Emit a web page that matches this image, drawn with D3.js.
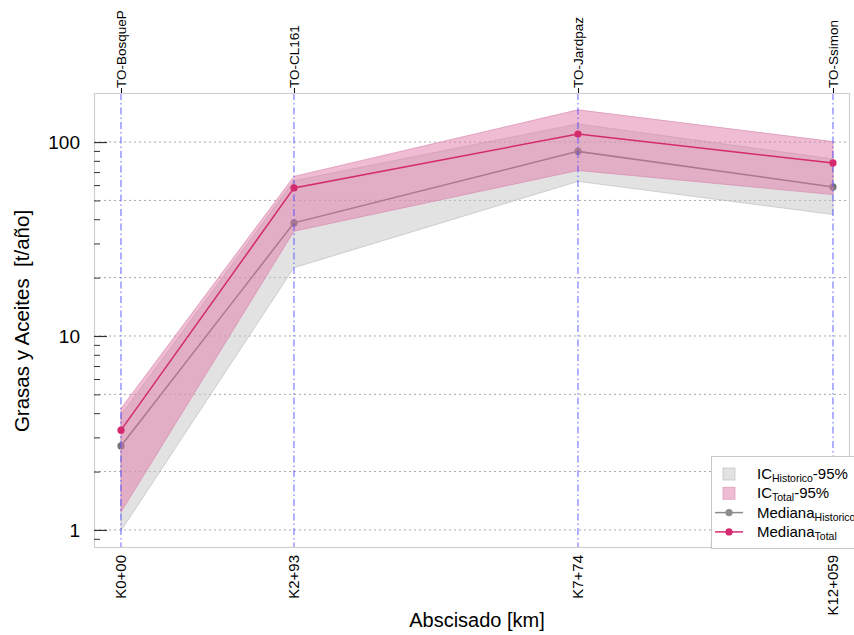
<!DOCTYPE html>
<html>
<head>
<meta charset="utf-8">
<script src="https://cdn.jsdelivr.net/npm/d3@7/dist/d3.min.js"></script>
<style>
  html, body { margin: 0; padding: 0; background: #fff; }
  svg { display: block; font-family: "Liberation Sans", Arial, sans-serif; }
</style>
</head>
<body>
<svg id="chart" width="854" height="635"></svg>
<script>
// Stations along the channel (abscissa in km)
const stations = ["K0+00", "K2+93", "K7+74", "K12+059"];
const km = [0, 2.93, 7.74, 12.059];
const sites = ["TO-BosqueP", "TO-CL161", "TO-Jardpaz", "TO-Ssimon"];

// Grease & oil load [t/año]
const medianaTotal = [3.27, 58.0, 110, 78];
const medianaHistorico = [2.71, 38.3, 89.5, 58.7];
const icTotalLow = [1.235, 34.7, 71.4, 53.6];
const icTotalHigh = [4.23, 66.5, 146.6, 100.5];
const icHistLow = [0.99, 22.5, 62.7, 42.3];
const icHistHigh = [3.9, 63.2, 124, 81.8];

// Axis ticks
const yMajor = [1, 10, 100];
const yGrid = [1, 2, 5, 10, 20, 50, 100];
const extraXTicks = [10];

const svg = d3.select("#chart");
const L = 94, R = 850, T = 93, B = 548;

const x = d3.scaleLinear().domain([-0.457, 12.347]).range([L, R]);
const y = d3.scaleLog().domain([0.807, 179]).range([B, T]);

const pinkLine = "#d42a6e";
const grayLine = "#757575";
const grayLegend = "#8c8c8c";
const pinkFill = "#e07aa8";
const grayFill = "#c6c6c6";

// Panel
svg.append("rect").attr("x", L).attr("y", T).attr("width", R - L).attr("height", B - T)
  .attr("fill", "#fff");

// Horizontal dotted grid
svg.append("g").selectAll("line").data(yGrid).join("line")
  .attr("x1", L).attr("x2", R)
  .attr("y1", d => y(d)).attr("y2", d => y(d))
  .attr("stroke", "#a8a8a8").attr("stroke-width", 1)
  .attr("stroke-dasharray", "2,3");

const rows = km.map((k, i) => ({
  k, mt: medianaTotal[i], mh: medianaHistorico[i],
  tl: icTotalLow[i], th: icTotalHigh[i], hl: icHistLow[i], hh: icHistHigh[i]
}));

const areaHist = d3.area().x(d => x(d.k)).y0(d => y(d.hl)).y1(d => y(d.hh));
const areaTot = d3.area().x(d => x(d.k)).y0(d => y(d.tl)).y1(d => y(d.th));
const lineH = d3.line().x(d => x(d.k)).y(d => y(d.mh));
const lineT = d3.line().x(d => x(d.k)).y(d => y(d.mt));

// Historic band and median (drawn beneath the total band)
svg.append("path").datum(rows).attr("d", areaHist)
  .attr("fill", grayFill).attr("fill-opacity", 0.5)
  .attr("stroke", "#b8b8b8").attr("stroke-opacity", 0.6).attr("stroke-width", 1);
svg.append("path").datum(rows).attr("d", lineH)
  .attr("fill", "none").attr("stroke", grayLine).attr("stroke-width", 1.5);
svg.append("g").selectAll("circle").data(rows).join("circle")
  .attr("cx", d => x(d.k)).attr("cy", d => y(d.mh)).attr("r", 3.6)
  .attr("fill", grayLine);

// Total band
svg.append("path").datum(rows).attr("d", areaTot)
  .attr("fill", pinkFill).attr("fill-opacity", 0.5)
  .attr("stroke", "#d98cb0").attr("stroke-opacity", 0.7).attr("stroke-width", 1);

// Station vertical lines
svg.append("g").selectAll("line").data(km).join("line")
  .attr("x1", d => x(d)).attr("x2", d => x(d))
  .attr("y1", T).attr("y2", B)
  .attr("stroke", "#4646ff").attr("stroke-opacity", 0.85).attr("stroke-width", 1)
  .attr("stroke-dasharray", "7,3,1.5,3");

// Total median
svg.append("path").datum(rows).attr("d", lineT)
  .attr("fill", "none").attr("stroke", pinkLine).attr("stroke-width", 1.5);
svg.append("g").selectAll("circle").data(rows).join("circle")
  .attr("cx", d => x(d.k)).attr("cy", d => y(d.mt)).attr("r", 3.6)
  .attr("fill", pinkLine);

// Panel frame
svg.append("rect").attr("x", L + 0.5).attr("y", T + 0.5).attr("width", R - L - 1).attr("height", B - T - 1)
  .attr("fill", "none").attr("stroke", "#cfcfcf").attr("stroke-width", 1.2);

// Y axis: inward ticks, minor ticks for every integer multiple
const yMinor = [];
[0.1, 1, 10, 100].forEach(dec => { for (let m = 1; m <= 9; m++) { const v = +(dec * m).toPrecision(3); if (v >= 0.807 && v <= 179) yMinor.push(v); } });
const yAxisMinor = d3.axisRight(y).tickValues(yMinor).tickSize(6).tickFormat("");
const gMinor = svg.append("g").attr("transform", `translate(${L},0)`).call(yAxisMinor);
gMinor.select(".domain").remove();
gMinor.selectAll("line").attr("stroke", "#333");

const yAxisMajor = d3.axisLeft(y).tickValues(yMajor).tickSize(-13).tickPadding(14)
  .tickFormat(d3.format("d"));
const gMajor = svg.append("g").attr("transform", `translate(${L},0)`).call(yAxisMajor);
gMajor.select(".domain").remove();
gMajor.selectAll("line").attr("stroke", "#333").attr("stroke-width", 1.2);
gMajor.selectAll("text").attr("font-size", 19).attr("fill", "#000")
  .attr("font-family", "Liberation Sans, Arial, sans-serif");

// Bottom axis: station labels, rotated
const xAxisB = d3.axisBottom(x).tickValues(km).tickSize(0).tickPadding(0)
  .tickFormat((d, i) => stations[i]);
const gB = svg.append("g").attr("transform", `translate(0,${B})`).call(xAxisB);
gB.select(".domain").remove();
gB.selectAll("text")
  .attr("font-size", 15).attr("fill", "#000")
  .attr("font-family", "Liberation Sans, Arial, sans-serif")
  .attr("text-anchor", "end").attr("dy", null)
  .attr("transform", "translate(5,7) rotate(-90)")
  .attr("x", 0).attr("y", 0);

// Extra inward tick on the bottom axis
svg.append("g").selectAll("line").data(extraXTicks).join("line")
  .attr("x1", d => x(d)).attr("x2", d => x(d)).attr("y1", B - 8).attr("y2", B)
  .attr("stroke", "#666").attr("stroke-width", 1);

// Top axis: sampling site names
const xAxisT = d3.axisTop(x).tickValues(km).tickSize(5).tickPadding(0)
  .tickFormat((d, i) => sites[i]);
const gT = svg.append("g").attr("transform", `translate(0,${T})`).call(xAxisT);
gT.select(".domain").remove();
gT.selectAll("line").attr("stroke", "#000");
gT.selectAll("text")
  .attr("font-size", 13.5).attr("fill", "#000")
  .attr("font-family", "Liberation Sans, Arial, sans-serif")
  .attr("text-anchor", "start").attr("dy", null)
  .attr("transform", "translate(5,-5) rotate(-90)")
  .attr("x", 0).attr("y", 0);

// Axis titles
svg.append("text").attr("x", 477).attr("y", 627).attr("text-anchor", "middle")
  .attr("font-size", 20).attr("fill", "#000").text("Abscisado [km]");
svg.append("text").attr("transform", "translate(29,321) rotate(-90)")
  .attr("text-anchor", "middle").attr("font-size", 20.5).attr("fill", "#000")
  .style("white-space", "pre").text("Grasas y Aceites  [t/año]");

// Legend
const lg = svg.append("g").attr("transform", "translate(711,456)");
lg.append("rect").attr("x", 0.5).attr("y", 0.5).attr("width", 160).attr("height", 92)
  .attr("fill", "#fff").attr("stroke", "#c8c8c8");

const legendItems = [
  { kind: "box", fill: grayFill, stroke: "#b8b8b8", main: "IC", sub: "Historico", tail: "-95%" },
  { kind: "box", fill: pinkFill, stroke: "#d98cb0", main: "IC", sub: "Total", tail: "-95%" },
  { kind: "line", color: grayLegend, main: "Mediana", sub: "Historico", tail: "" },
  { kind: "line", color: pinkLine, main: "Mediana", sub: "Total", tail: "" }
];
legendItems.forEach((it, i) => {
  const cy = 18 + i * 19.3;
  if (it.kind === "box") {
    lg.append("rect").attr("x", 12).attr("y", cy - 6).attr("width", 12).attr("height", 12)
      .attr("fill", it.fill).attr("fill-opacity", 0.5).attr("stroke", it.stroke).attr("stroke-opacity", 0.6);
  } else {
    lg.append("line").attr("x1", 4).attr("x2", 32).attr("y1", cy).attr("y2", cy)
      .attr("stroke", it.color).attr("stroke-width", 1.5);
    lg.append("circle").attr("cx", 18).attr("cy", cy).attr("r", 3.6).attr("fill", it.color);
  }
  const t = lg.append("text").attr("x", 46).attr("y", cy + 5).attr("font-size", 15).attr("fill", "#000");
  t.append("tspan").text(it.main);
  t.append("tspan").attr("font-size", 10.5).attr("dy", 3).text(it.sub);
  if (it.tail) t.append("tspan").attr("dy", -3).text(it.tail);
});
</script>
</body>
</html>
